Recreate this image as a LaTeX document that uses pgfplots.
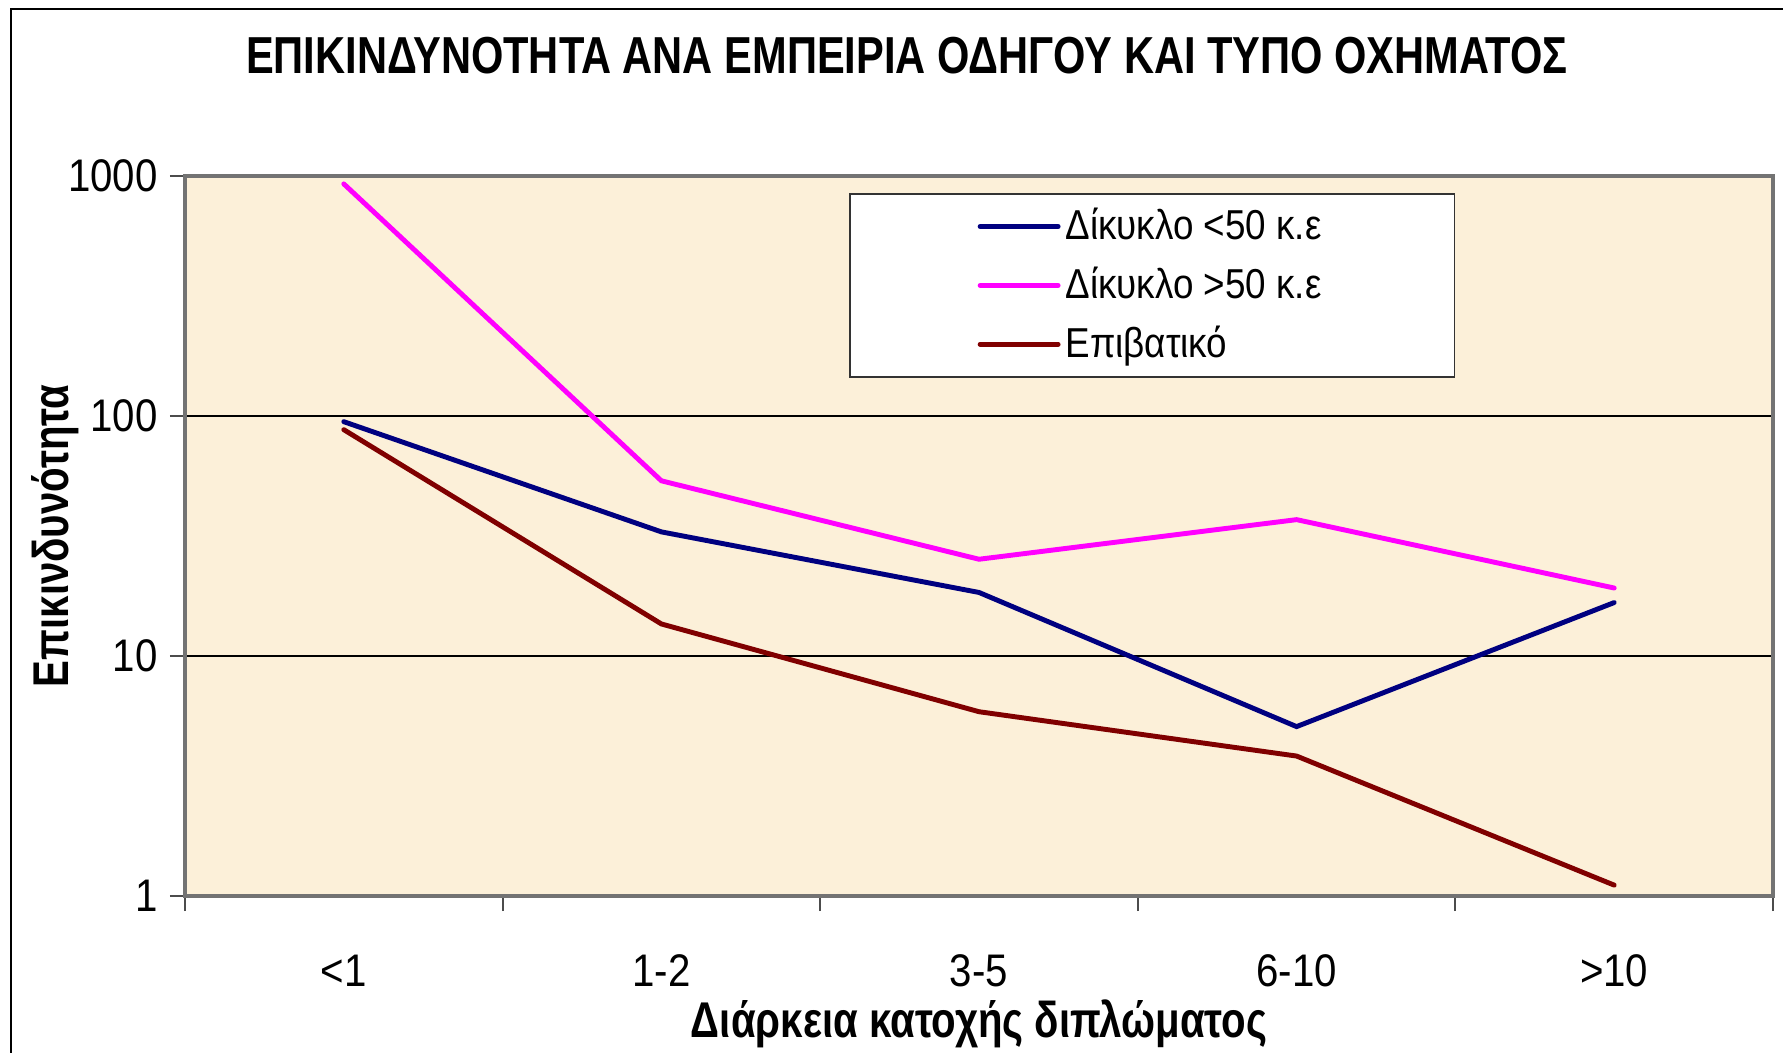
\documentclass[border=0pt]{standalone}
\usepackage{pgfplots}
\pgfplotsset{compat=1.18}
\usepackage{fontspec}
\setmainfont{Liberation Sans}
\newfontfamily\narrow[FakeStretch=0.8]{Liberation Sans}
\newfontfamily\semnarrow[FakeStretch=0.88]{Liberation Sans}
\definecolor{bgbeige}{HTML}{FCF0D9}
\definecolor{cnavy}{HTML}{000080}
\definecolor{cmag}{HTML}{FF00FF}
\definecolor{cmaroon}{HTML}{800000}

\begin{document}
\begin{tikzpicture}[x=0.1mm,y=0.1mm]
\path[use as bounding box] (-185,-156) rectangle (1598,896);
% frame round the chart (left and top edges visible)
\draw[black, line width=0.6pt] (-174,-400) -- (-174,887) -- (1800,887);
\begin{axis}[
  at={(0,0)}, anchor=south west,
  scale only axis, width=158.8mm, height=72mm,
  ymode=log, ymin=1, ymax=1000,
  xmin=0.5, xmax=5.5,
  axis background/.style={fill=bgbeige},
  axis line style={draw=black!55, line width=0.9pt},
  ymajorgrids, grid style={black, line width=0.4pt},
  yminorticks=false,
  ytick={1,10,100,1000}, yticklabels={1,10,100,1000},
  xtick={0.5,1.5,2.5,3.5,4.5,5.5}, xticklabels={},
  extra x ticks={1,2,3,4,5},
  extra x tick labels={<1,1-2,3-5,6-10,>10},
  extra x tick style={major tick length=0pt, grid=none,
    tick label style={yshift=-5.8mm, inner ysep=0pt}},
  xtick pos=bottom, ytick pos=left,
  tick align=outside, major tick length=1.5mm,
  tick style={black!70, line width=0.6pt},
  ticklabel style={font=\semnarrow\fontsize{13}{15}\selectfont},
  /pgf/number format/assume math mode=true,
  title={ΕΠΙΚΙΝΔΥΝΟΤΗΤΑ ΑΝΑ ΕΜΠΕΙΡΙΑ ΟΔΗΓΟΥ ΚΑΙ ΤΥΠΟ ΟΧΗΜΑΤΟΣ},
  title style={at={(rel axis cs:0.4547,1.1375)}, anchor=center, yshift=0pt,
    font=\narrow\bfseries\fontsize{14.8}{17}\selectfont},
  xlabel={Διάρκεια κατοχής διπλώματος},
  xlabel style={at={(rel axis cs:0.5,-0.177)}, anchor=center, inner ysep=0pt,
    font=\narrow\bfseries\fontsize{14.3}{16}\selectfont},
  ylabel={Επικινδυνότητα},
  ylabel style={at={(rel axis cs:-0.082,0.5)}, anchor=center,
    font=\narrow\bfseries\fontsize{14.3}{16}\selectfont},
  legend style={at={(rel axis cs:0.418,0.976)}, anchor=north west,
    draw=black!80, fill=white, line width=0.5pt,
    font=\semnarrow\fontsize{11.9}{14}\selectfont,
    inner xsep=12.8mm, inner ysep=0.7mm, row sep=0.8mm,
    nodes={inner xsep=0.5mm}},
  legend cell align=left,
  legend image code/.code={\draw[#1] (0mm,0mm) -- (7.8mm,0mm);},
  every axis plot/.append style={line width=1.4pt, line cap=round},
  clip=false,
]
\addplot[cnavy] coordinates {(1,94.7)(2,32.9)(3,18.4)(4,5.08)(5,16.7)};
\addlegendentry{Δίκυκλο <50 κ.ε}
\addplot[cmag] coordinates {(1,927)(2,53.7)(3,25.3)(4,37)(5,19.2)};
\addlegendentry{Δίκυκλο >50 κ.ε}
\addplot[cmaroon] coordinates {(1,87.7)(2,13.6)(3,5.86)(4,3.83)(5,1.11)};
\addlegendentry{Επιβατικό}
\end{axis}
\end{tikzpicture}
\end{document}
